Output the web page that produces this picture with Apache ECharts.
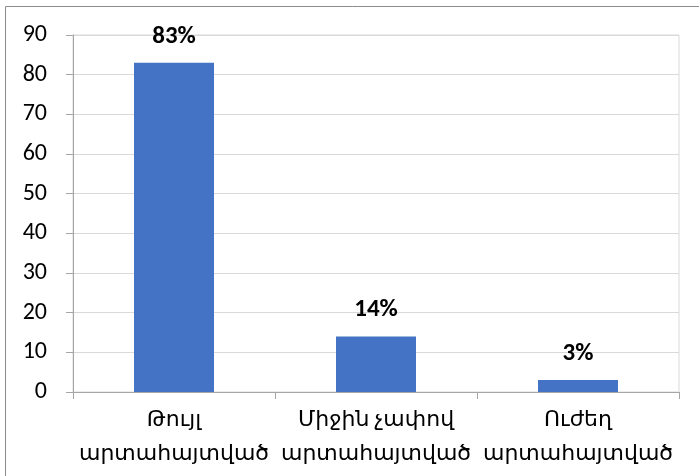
<!DOCTYPE html>
<html>
<head>
<meta charset="utf-8">
<script src="https://cdn.jsdelivr.net/npm/echarts@6/dist/echarts.min.js"></script>
<style>html,body{margin:0;padding:0;background:#fff}#c{width:699px;height:476px}</style>
</head>
<body>
<div id="c"></div>
<script>
const categories = ['Թույլ\nարտահայտված', 'Միջին չափով\nարտահայտված', 'Ուժեղ\nարտահայտված'];
const values = [83, 14, 3];
const valueLabels = ['83%', '14%', '3%'];
const yTicks = { min: 0, max: 90, interval: 10 };

const font = 'Carlito, "Open Sans", "DejaVu Sans", sans-serif';
const chart = echarts.init(document.getElementById('c'), null, { renderer: 'canvas' });
chart.setOption({
  backgroundColor: '#fff',
  animation: false,
  graphic: [{
    type: 'rect', shape: { x: 5.5, y: 6.5, width: 720, height: 500 },
    style: { fill: 'none', stroke: '#8c8c8c', lineWidth: 1 }, silent: true
  }],
  grid: { left: 73, right: 20, top: 35, bottom: 84, show: true, borderColor: '#d9d9d9', borderWidth: 1, backgroundColor: 'transparent' },
  xAxis: {
    type: 'category', data: categories,
    axisLine: { lineStyle: { color: '#a6a6a6', width: 1 } },
    axisTick: { show: true, length: 7, alignWithLabel: false, lineStyle: { color: '#a6a6a6' } },
    axisLabel: { color: '#000', fontSize: 22, fontFamily: font, margin: 11, lineHeight: 34, interval: 0 }
  },
  yAxis: {
    type: 'value', min: yTicks.min, max: yTicks.max, interval: yTicks.interval,
    axisLine: { show: true, lineStyle: { color: '#a6a6a6' } },
    axisTick: { show: true, inside: false, length: 7, lineStyle: { color: '#a6a6a6' } },
    axisLabel: { color: '#000', fontSize: 24, fontFamily: font, margin: 26 },
    splitLine: { lineStyle: { color: '#d9d9d9' } }
  },
  series: [{
    type: 'bar', data: values, barWidth: 80,
    itemStyle: { color: '#4472C4' },
    label: {
      show: true, position: 'top', distance: 14, color: '#000', fontWeight: 'bold', fontSize: 25, lineHeight: 25, fontFamily: font,
      formatter: p => valueLabels[p.dataIndex]
    }
  }]
});
</script>
</body>
</html>
